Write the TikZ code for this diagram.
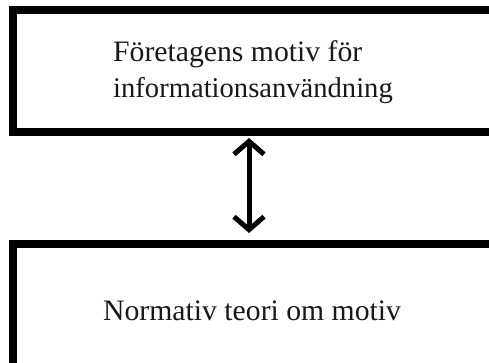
\documentclass[tikz,border=0pt]{standalone}
\usepackage{fontspec}
\setmainfont{Liberation Serif}
\usetikzlibrary{arrows.meta}
\begin{document}
\begin{tikzpicture}[x=1pt,y=-1pt,
  box/.style={draw=black,line width=8pt,fill=white,inner sep=0pt,outer sep=0pt},
  lbl/.style={inner sep=0pt,font=\fontsize{29.7pt}{36pt}\selectfont,text=black!90},
  arr/.style={line width=5pt,{Straight Barb[length=13pt,width=30pt,line width=5pt]}-{Straight Barb[length=13pt,width=30pt,line width=5pt]}}]
\path[use as bounding box,clip] (0,0) rectangle (489,363);
\fill[white] (0,0) rectangle (489,363);
\node[box,minimum width=487pt,minimum height=122pt] (top) at (256.5,71) {};
\node[box,minimum width=487pt,minimum height=123pt] (bot) at (256.5,305.5) {};
\node[lbl,anchor=base west] (t1) at (113,62) {Företagens motiv för};
\node[lbl,anchor=base west,font=\fontsize{28.6pt}{36pt}\selectfont] (t2) at (113,98) {informationsanvändning};
\node[lbl,anchor=base west] (b1) at (103,320) {Normativ teori om motiv};
\coordinate (ax) at (249,0);
\draw[arr,shorten <=6pt,shorten >=11pt] (top.south -| ax) -- (bot.north -| ax);
\end{tikzpicture}
\end{document}
